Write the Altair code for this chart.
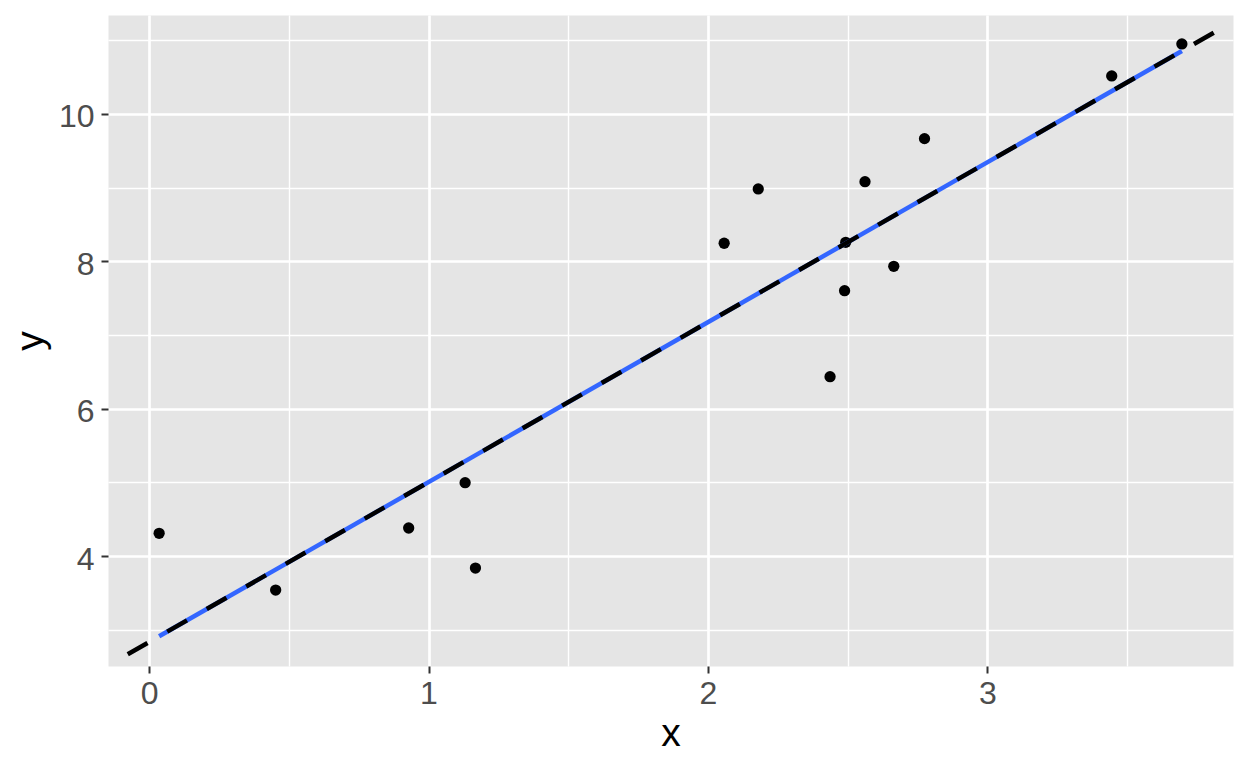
import altair as alt
import pandas as pd

x_vals = [0.036, 0.453, 0.929, 1.131, 1.168, 2.058, 2.180, 2.437, 2.489, 2.493,
          2.562, 2.665, 2.775, 3.445, 3.696]
y_vals = [4.308, 3.538, 4.380, 4.995, 3.837, 8.245, 8.982, 6.434, 7.601, 8.258,
          9.081, 7.932, 9.665, 10.516, 10.950]

x_domain = [-0.147, 3.879]
y_domain = [2.507, 11.343]
x_ticks = [0, 0.5, 1, 1.5, 2, 2.5, 3, 3.5]
y_ticks = [3, 4, 5, 6, 7, 8, 9, 10, 11]

df = pd.DataFrame({"x": x_vals, "y": y_vals})

FONT = "Liberation Sans"

x_axis = alt.Axis(
    values=x_ticks,
    title="x",
    domain=False,
    grid=True,
    gridColor="white",
    gridWidth={"condition": {"test": "datum.value % 1 !== 0", "value": 1.4}, "value": 2.7},
    tickOpacity={"condition": {"test": "datum.value % 1 !== 0", "value": 0}, "value": 1},
    labelExpr="datum.value % 1 === 0 ? format(datum.value, 'd') : ''",
    tickColor="#333333",
    tickWidth=2,
    tickSize=7,
    labelFont=FONT,
    labelFontSize=32,
    labelColor="#4D4D4D",
    labelBaseline="alphabetic",
    labelPadding=30,
    titleFont=FONT,
    titleFontSize=39,
    titleFontWeight="normal",
    titleColor="black",
    titleX=562.5,
    titleY=79,
    titleAlign="center",
    titleBaseline="alphabetic",
)

y_axis = alt.Axis(
    values=y_ticks,
    title="y",
    domain=False,
    grid=True,
    gridColor="white",
    gridWidth={"condition": {"test": "datum.value % 2 !== 0", "value": 1.4}, "value": 2.7},
    tickOpacity={"condition": {"test": "datum.value % 2 !== 0", "value": 0}, "value": 1},
    labelExpr="datum.value % 2 === 0 ? format(datum.value, 'd') : ''",
    tickColor="#333333",
    tickWidth=2,
    tickSize=7,
    labelFont=FONT,
    labelFontSize=32,
    labelColor="#4D4D4D",
    labelBaseline="alphabetic",
    labelOffset=13,
    labelPadding=7,
    titleFont=FONT,
    titleFontSize=39,
    titleFontWeight="normal",
    titleColor="black",
    titleAngle=270,
    titleX=-66,
    titleY=325.5,
    titleAlign="center",
    titleBaseline="alphabetic",
)

xs = alt.Scale(domain=x_domain, nice=False, zero=False)
ys = alt.Scale(domain=y_domain, nice=False, zero=False)

base = alt.Chart(df)

points = base.mark_circle(size=127, color="black", opacity=1).encode(
    x=alt.X("x:Q", scale=xs, axis=x_axis),
    y=alt.Y("y:Q", scale=ys, axis=y_axis),
)

smooth = base.transform_regression("x", "y").mark_line(
    color="#3366FF", strokeWidth=4.5
).encode(
    x=alt.X("x:Q", scale=xs),
    y=alt.Y("y:Q", scale=ys),
)

abline = base.transform_regression("x", "y", extent=x_domain).mark_line(
    color="black", strokeWidth=4.5, strokeDash=[22.75, 22.75], strokeDashOffset=22.75, clip=True
).encode(
    x=alt.X("x:Q", scale=xs),
    y=alt.Y("y:Q", scale=ys),
)

chart = alt.layer(points, smooth, abline).properties(
    width=1125,
    height=651,
    autosize=alt.AutoSizeParams(type="none"),
    padding={"left": 100, "top": 7, "right": 7, "bottom": 90},
).configure_view(
    fill="#E5E5E5",
    stroke="transparent",
)

chart.save("out.html", embed_options={"renderer": "svg", "actions": False})
